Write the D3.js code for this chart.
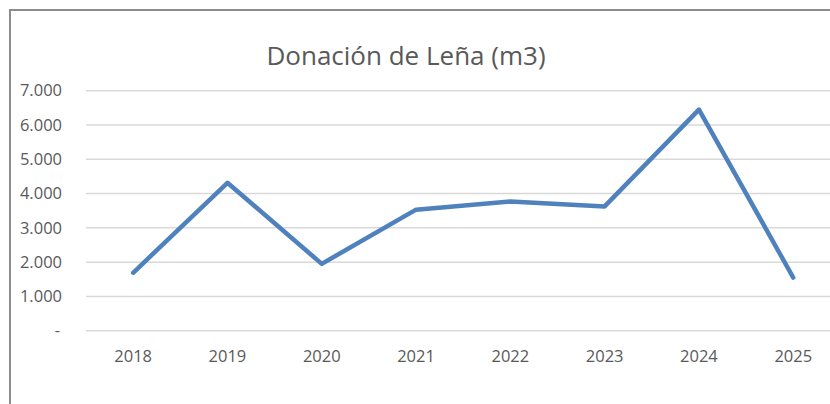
<!DOCTYPE html>
<html>
<head>
<meta charset="utf-8">
<style>
    body { margin: 0; background: #fff; }
    svg { display: block; font-family: "Open Sans", sans-serif; }
    .grid line { stroke: #d9d9d9; stroke-width: 1.5; }
    .tick-label { fill: #595959; font-size: 16.5px; }
    .title { fill: #595959; font-size: 26px; }
</style>
<script src="https://d3js.org/d3.v7.min.js"></script>
</head>
<body>
<svg width="830" height="404"></svg>
<script>
    const years = ['2018', '2019', '2020', '2021', '2022', '2023', '2024', '2025'];
    const lena = [1690, 4315, 1950, 3530, 3770, 3625, 6450, 1550];
    const yTicks = [0, 1000, 2000, 3000, 4000, 5000, 6000, 7000];
    const yTickLabels = ['-', '1.000', '2.000', '3.000', '4.000', '5.000', '6.000', '7.000'];

    const svg = d3.select('svg');

    // chart frame, right and bottom edges are outside the picture
    svg.append('rect')
        .attr('x', 10).attr('y', 10)
        .attr('width', 840).attr('height', 420)
        .attr('fill', 'none')
        .attr('stroke', '#8c8c8c')
        .attr('stroke-width', 2);

    const xScale = d3.scaleBand()
        .domain(years)
        .range([86, 840.4]);
    const yScale = d3.scaleLinear()
        .domain([0, 7000])
        .range([330.7, 90.7]);

    svg.append('text')
        .classed('title', true)
        .attr('x', 406).attr('y', 65)
        .attr('text-anchor', 'middle')
        .text('Donación de Leña (m3)');

    svg.append('g')
        .classed('grid', true)
        .selectAll('line')
        .data(yTicks)
        .enter()
        .append('line')
        .attr('x1', 86).attr('x2', 830)
        .attr('y1', d => yScale(d)).attr('y2', d => yScale(d));

    svg.append('g')
        .selectAll('text')
        .data(yTicks)
        .enter()
        .append('text')
        .classed('tick-label', true)
        .attr('x', (d, i) => i === 0 ? 60 : 62)
        .attr('y', d => yScale(d))
        .attr('dy', '0.35em')
        .attr('text-anchor', 'end')
        .text((d, i) => yTickLabels[i]);

    svg.append('g')
        .selectAll('text')
        .data(years)
        .enter()
        .append('text')
        .classed('tick-label', true)
        .attr('x', d => xScale(d) + xScale.bandwidth() / 2)
        .attr('y', 362)
        .attr('text-anchor', 'middle')
        .text(d => d);

    const line = d3.line()
        .x((d, i) => xScale(years[i]) + xScale.bandwidth() / 2)
        .y(d => yScale(d));

    svg.append('path')
        .datum(lena)
        .attr('d', line)
        .attr('fill', 'none')
        .attr('stroke', '#4f81bd')
        .attr('stroke-width', 4.5)
        .attr('stroke-linejoin', 'round')
        .attr('stroke-linecap', 'round');
</script>
</body>
</html>
